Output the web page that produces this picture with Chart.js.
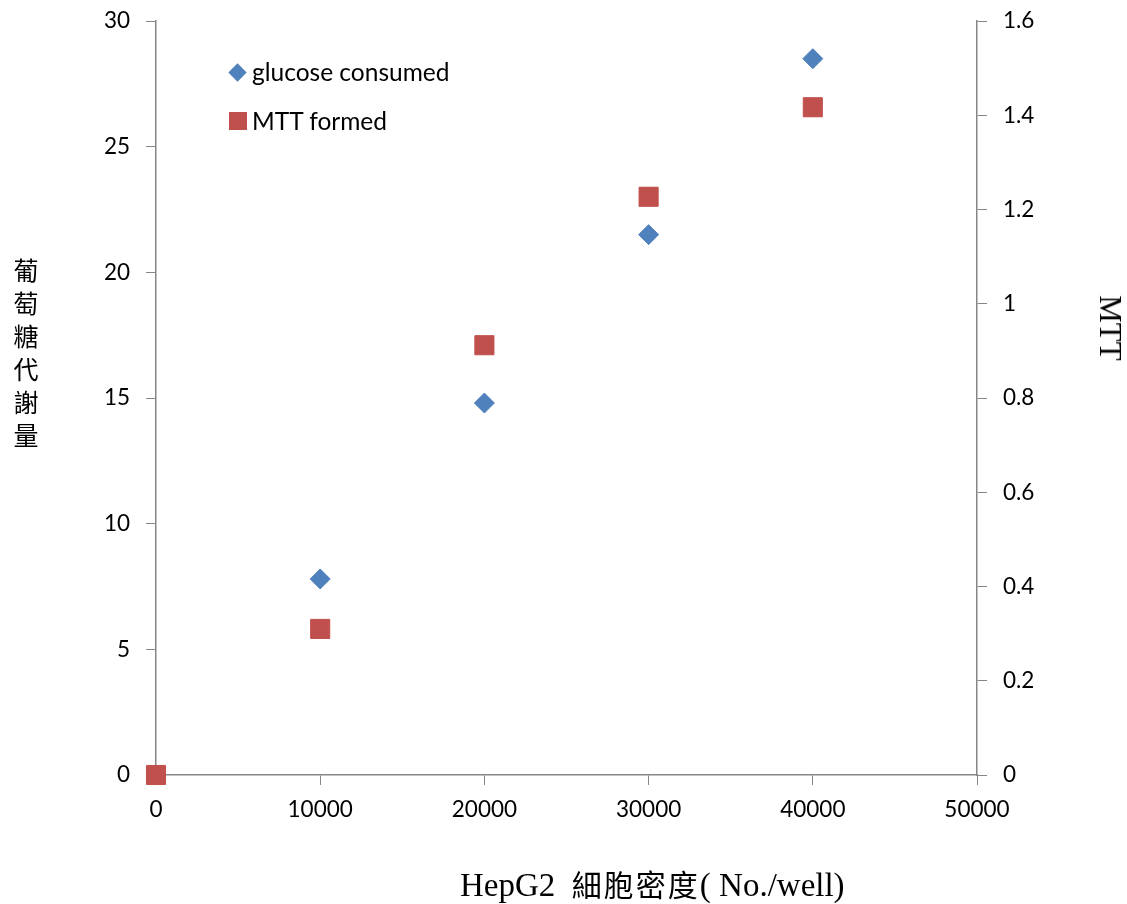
<!DOCTYPE html>
<html><head><meta charset="utf-8">
<script src="https://cdn.jsdelivr.net/npm/chart.js@4"></script>
<style>
html,body{margin:0;padding:0;background:#fff;}
#wrap{position:relative;width:1127px;height:904px;}
canvas{position:absolute;left:0;top:0;}
.t{position:absolute;color:#000;white-space:nowrap;}
#ytitle{left:12px;top:258px;writing-mode:vertical-rl;font-family:"Noto Sans CJK TC";font-size:25px;letter-spacing:8px;line-height:28px;}
#xtitle{left:460px;top:864px;font-family:"Liberation Serif";font-size:33px;line-height:38px;}
#xtitle .cjk{font-family:"Noto Sans CJK TC";font-size:30px;letter-spacing:2px;}
#y2title{left:1110px;top:328px;font-family:"Liberation Serif";font-size:31px;line-height:34px;transform:translate(-50%,-50%) rotate(90deg);}
.leg{position:absolute;font-family:Lato,"Open Sans";font-size:24.5px;line-height:28px;}
.mk{position:absolute;}
</style></head>
<body><div id="wrap">
<canvas id="c" width="1127" height="904"></canvas>
<div class="t" id="ytitle">葡萄糖代謝量</div>
<div class="t" id="xtitle">HepG2&nbsp;&nbsp;<span class="cjk">細胞密度</span>( No./well)</div>
<div class="t" id="y2title">MTT</div>
<div class="mk" style="left:231px;top:66px;width:13px;height:13px;background:#4F81BD;transform:rotate(45deg);"></div>
<div class="leg" style="left:252px;top:58px;">glucose consumed</div>
<div class="mk" style="left:229px;top:112px;width:18px;height:18px;background:#C0504D;"></div>
<div class="leg" style="left:252px;top:107px;">MTT formed</div>
</div>
<script>
const cellDensity = [0, 10000, 20000, 30000, 40000];
const glucoseConsumed = [0, 7.8, 14.8, 21.5, 28.5];
const mttFormed = [0, 0.31, 0.912, 1.227, 1.417];
const xTicks = [0, 10000, 20000, 30000, 40000, 50000];

const axisColor = '#868686';
const tickFont = {family: 'Lato, "Open Sans"', size: 22.5};

function fitY(w) {
  return s => { s.width = w; s.paddingTop = 0; s.paddingBottom = 0; };
}

new Chart(document.getElementById('c'), {
  type: 'scatter',
  data: {
    datasets: [
      {
        label: 'glucose consumed',
        data: cellDensity.map((x, i) => ({x, y: glucoseConsumed[i]})),
        yAxisID: 'y',
        pointStyle: 'rectRot',
        pointRadius: 10,
        pointHoverRadius: 10,
        backgroundColor: '#4F81BD',
        borderColor: '#4F81BD',
        borderWidth: 1,
        clip: false,
        order: 1
      },
      {
        label: 'MTT formed',
        data: cellDensity.map((x, i) => ({x, y: mttFormed[i]})),
        yAxisID: 'y2',
        pointStyle: 'rect',
        pointRadius: 13.5,
        pointHoverRadius: 13.5,
        backgroundColor: '#C0504D',
        borderColor: '#C0504D',
        borderWidth: 1,
        clip: false,
        order: 0
      }
    ]
  },
  options: {
    responsive: false,
    animation: false,
    devicePixelRatio: 1,
    layout: {padding: {top: 21, left: 0, right: 0, bottom: 0}},
    plugins: {legend: {display: false}, tooltip: {enabled: false}},
    scales: {
      x: {
        type: 'linear', min: 0, max: 50000,
        afterBuildTicks: s => { s.ticks = xTicks.map(v => ({value: v})); },
        afterFit: s => { s.height = 129; s.paddingLeft = 0; s.paddingRight = 0; },
        grid: {drawOnChartArea: false, color: axisColor, tickLength: 10, tickColor: axisColor},
        border: {color: axisColor, width: 1.5},
        ticks: {color: '#000', font: tickFont, padding: 11, maxRotation: 0, autoSkip: false, callback: v => String(v)}
      },
      y: {
        position: 'left', min: 0, max: 30,
        afterFit: fitY(156),
        grid: {drawOnChartArea: false, color: axisColor, tickLength: 10, tickColor: axisColor},
        border: {color: axisColor, width: 1.5},
        ticks: {color: '#000', font: tickFont, stepSize: 5, padding: 16}
      },
      y2: {
        position: 'right', min: 0, max: 1.6,
        afterFit: fitY(150),
        grid: {drawOnChartArea: false, color: axisColor, tickLength: 10, tickColor: axisColor},
        border: {color: axisColor, width: 1.5},
        ticks: {color: '#000', font: tickFont, stepSize: 0.2, padding: 16,
          callback: v => { const r = Math.round(v * 10) / 10; return String(r); }}
      }
    }
  }
});
</script>
</body></html>
